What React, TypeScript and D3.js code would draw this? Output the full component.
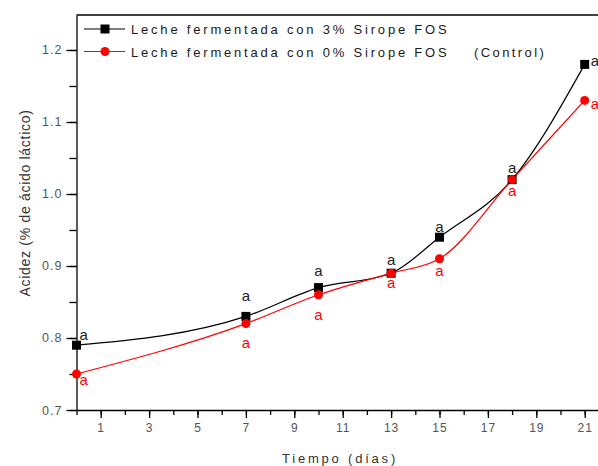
import React, { useRef, useEffect } from 'react';
import * as d3 from 'd3';

const days = [0, 7, 10, 13, 15, 18, 21];
const fos3 = [0.79, 0.83, 0.87, 0.89, 0.94, 1.02, 1.18];
const fos0 = [0.75, 0.82, 0.86, 0.89, 0.91, 1.02, 1.13];
const letters3 = ['a', 'a', 'a', 'a', 'a', 'a', 'a'];
const letters0 = ['a', 'a', 'a', 'a', 'a', 'a', 'a'];
const xTicks = [1, 3, 5, 7, 9, 11, 13, 15, 17, 19, 21];
const yTicks = [0.7, 0.8, 0.9, 1.0, 1.1, 1.2];
const seriesNames = ['Leche fermentada con 3% Sirope FOS', 'Leche fermentada con 0% Sirope FOS'];

// vertical nudges of the significance letters (px), layout only
const dy3 = [-5, -15, -12, -8, -5, -7, 2];
const dy0 = [11, 24, 25, 15, 17, 16, 9];

const App = () => {
    const ref = useRef<SVGSVGElement>(null);

    useEffect(() => {
        const width = 598;
        const height = 466;
        const left = 76.5;
        const top = 15;
        const bottom = 410;
        const font = 'Liberation Sans, Arial, sans-serif';

        const x = d3.scaleLinear().domain([0, 22]).range([left, left + 22 * 24.2]);
        const y = d3.scaleLinear().domain([0.7, 1.2486]).range([bottom, top]);

        const svg = d3.select(ref.current).attr('width', width).attr('height', height);
        svg.selectAll('*').remove();

        svg.append('line').attr('x1', left).attr('x2', width).attr('y1', top).attr('y2', top)
            .attr('stroke', '#000').attr('stroke-width', 1.3);

        const xAxis = svg.append('g').attr('transform', `translate(0,${bottom})`);
        xAxis.call(d3.axisBottom(x).tickValues(d3.range(0, 23)).tickFormat(() => '').tickSize(5).tickSizeOuter(0));
        xAxis.call(g => g.append('g').call(d3.axisBottom(x).tickValues(xTicks).tickFormat(d3.format('d')).tickSize(8).tickPadding(5))
            .call(s => s.select('.domain').remove()));
        xAxis.selectAll('path,line').attr('stroke', '#000').attr('stroke-width', 1.3);
        xAxis.selectAll('text').attr('fill', '#555').attr('font-size', 12).attr('font-family', font)
            .attr('letter-spacing', 1);

        const yAxis = svg.append('g').attr('transform', `translate(${left},0)`);
        yAxis.call(d3.axisLeft(y).tickValues(d3.range(0.7, 1.25, 0.05)).tickFormat(() => '').tickSize(7).tickSizeOuter(0));
        yAxis.call(g => g.append('g').call(d3.axisLeft(y).tickValues(yTicks).tickFormat(d3.format('.1f')).tickSize(10).tickPadding(4))
            .call(s => s.select('.domain').remove()));
        yAxis.selectAll('path,line').attr('stroke', '#000').attr('stroke-width', 1.3);
        yAxis.selectAll('text').attr('fill', '#555').attr('font-size', 12.5).attr('font-family', font)
            .attr('letter-spacing', 1);

        svg.append('text').attr('x', 340).attr('y', 463).attr('text-anchor', 'middle')
            .attr('font-family', font).attr('font-size', 13).attr('letter-spacing', 2.8).attr('fill', '#333')
            .text('Tiempo (días)');
        svg.append('text').attr('transform', `translate(30,203) rotate(-90)`).attr('text-anchor', 'middle')
            .attr('font-family', font).attr('font-size', 14).attr('letter-spacing', 0.7).attr('fill', '#333')
            .text('Acidez (% de ácido láctico)');

        const line = d3.line<number>().x((d, i) => x(days[i])).y(d => y(d)).curve(d3.curveMonotoneX);

        const series = [
            { vals: fos3, letters: letters3, dy: dy3, color: '#000', text: '#222', shape: 'square' },
            { vals: fos0, letters: letters0, dy: dy0, color: '#f00', text: '#f00', shape: 'circle' },
        ];

        series.forEach(s => {
            svg.append('path').datum(s.vals).attr('d', line).attr('fill', 'none')
                .attr('stroke', s.color).attr('stroke-width', 1.2);
        });

        const last = days.length - 1;
        series.forEach(s => {
            const g = svg.append('g');
            if (s.shape === 'square') {
                g.selectAll('rect').data(s.vals).join('rect')
                    .attr('x', (d, i) => x(days[i]) - 4.5).attr('y', d => y(d) - 4.5)
                    .attr('width', 9).attr('height', 9).attr('fill', s.color);
            } else {
                g.selectAll('circle').data(s.vals).join('circle')
                    .attr('cx', (d, i) => x(days[i])).attr('cy', d => y(d)).attr('r', 4.5).attr('fill', s.color);
            }
            g.selectAll('text').data(s.vals).join('text')
                .attr('x', (d, i) => i === 0 ? x(days[i]) + 3 : i === last ? x(days[i]) + 6 : x(days[i]))
                .attr('y', (d, i) => y(d) + s.dy[i])
                .attr('text-anchor', (d, i) => i === 0 || i === last ? 'start' : 'middle')
                .attr('font-family', font).attr('font-size', 15).attr('fill', s.text)
                .text((d, i) => s.letters[i]);
        });

        const legend = svg.append('g');
        seriesNames.forEach((name, k) => {
            const ly = 29 + k * 22.5;
            legend.append('line').attr('x1', 84).attr('x2', 125).attr('y1', ly).attr('y2', ly)
                .attr('stroke', series[k].color).attr('stroke-width', 1.2);
            if (k === 0) {
                legend.append('rect').attr('x', 100.5).attr('y', ly - 4.5).attr('width', 9).attr('height', 9).attr('fill', '#000');
            } else {
                legend.append('circle').attr('cx', 105).attr('cy', ly).attr('r', 4.5).attr('fill', '#f00');
            }
            legend.append('text').attr('x', 131).attr('y', ly + 5)
                .attr('font-family', font).attr('font-size', 13).attr('letter-spacing', 2.8).attr('fill', '#1a1a1a')
                .text(name);
        });
        legend.append('text').attr('x', 474).attr('y', 29 + 22.5 + 5)
            .attr('font-family', font).attr('font-size', 13).attr('letter-spacing', 2.4).attr('fill', '#1a1a1a')
            .text('(Control)');
    }, []);

    return <svg ref={ref} style={{ position: 'absolute', left: 0, top: 0 }}></svg>;
};

export default App;
